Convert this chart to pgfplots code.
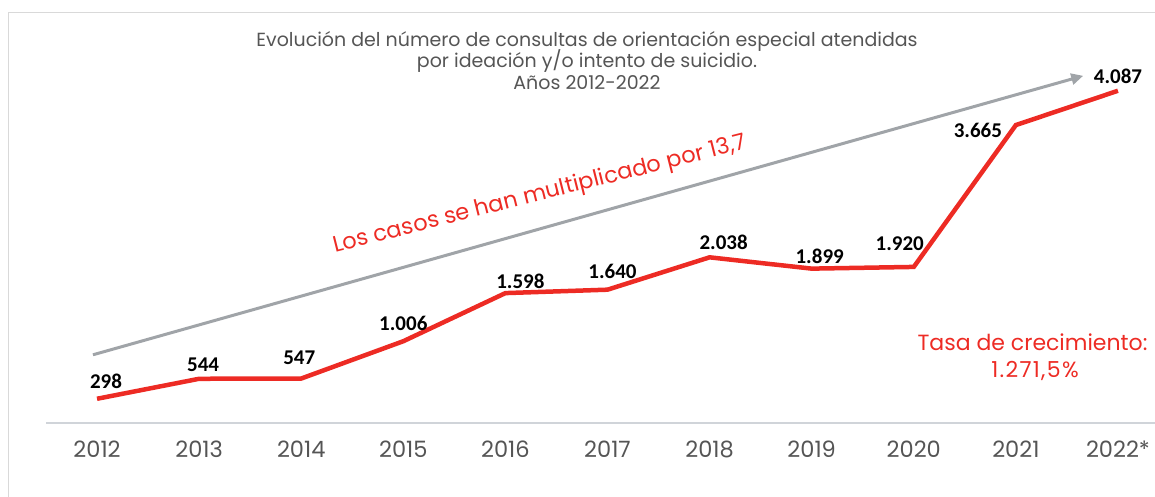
\documentclass[border=0pt]{standalone}
\usepackage{fontspec}
\setmainfont{Poppins}
\newfontfamily\numfont{Carlito}
\newfontfamily\spacedfont{Poppins}[LetterSpace=6]
\usepackage{pgfplots}
\usepackage{pgfplotstable}
\pgfplotsset{compat=1.18}
\usetikzlibrary{arrows.meta}
\definecolor{cred}{RGB}{237,43,36}
\definecolor{cgray}{RGB}{160,164,168}
\definecolor{ctext}{RGB}{85,85,85}
\definecolor{cframe}{RGB}{217,217,217}
\definecolor{caxis}{RGB}{208,212,217}
\tikzset{
  ttl/.style={anchor=base, inner sep=0pt, text=ctext, font=\fontsize{19}{22}\selectfont},
  numlab/.style={anchor=center, inner sep=2pt, text=black, font=\numfont\bfseries\fontsize{21}{24}\selectfont},
}

\pgfplotstableread{
x v
0 298
1 544
2 547
3 1006
4 1598
5 1640
6 2038
7 1899
8 1920
9 3665
10 4087
}\datatable

\begin{document}
\begin{tikzpicture}[x=1pt,y=1pt]
\path[use as bounding box] (0,0) rectangle (1155,497);
\draw[cframe, line width=1.3pt] (8.3,-5) -- (8.3,484.7) -- (1170,484.7);
\node[ttl] at (587,450) {Evolución del número de consultas de orientación especial atendidas};
\node[ttl] at (587,429) {por ideación y/o intento de suicidio.};
\node[ttl] at (587,407) {Años 2012-2022};
\begin{axis}[
  at={(46pt,74pt)}, anchor=south west, scale only axis,
  width=1123pt, height=365.8pt,
  xmin=-0.5, xmax=10.5, ymin=0, ymax=4500,
  axis x line*=bottom, axis y line=none,
  x axis line style={caxis, line width=1.5pt},
  xtick={0,...,10},
  xticklabels={2012,2013,2014,2015,2016,2017,2018,2019,2020,2021,2022*},
  ytick=\empty,
  major tick length=0pt,
  xticklabel style={anchor=base, yshift=-35pt, text=ctext, font=\fontsize{22.5}{26}\selectfont},
  clip=false,
]
\addplot[cgray, line width=3pt, -{Triangle[length=12pt,width=11pt]}] coordinates {(-0.04,839) (9.66,4271)};
\addplot[cred, line width=4.5pt] table[x=x,y=v]{\datatable};
\node[numlab, xshift=9pt, yshift=17pt] at (axis cs:0,298) {298};
\node[numlab, xshift=4pt, yshift=14pt] at (axis cs:1,544) {544};
\node[numlab, xshift=-2pt, yshift=21pt] at (axis cs:2,547) {547};
\node[numlab, xshift=0pt, yshift=18pt] at (axis cs:3,1006) {1.006};
\node[numlab, xshift=15pt, yshift=12pt] at (axis cs:4,1598) {1.598};
\node[numlab, xshift=5pt, yshift=18pt] at (axis cs:5,1640) {1.640};
\node[numlab, xshift=14pt, yshift=15pt] at (axis cs:6,2038) {2.038};
\node[numlab, xshift=8pt, yshift=12pt] at (axis cs:7,1899) {1.899};
\node[numlab, xshift=-14pt, yshift=23pt] at (axis cs:8,1920) {1.920};
\node[numlab, xshift=-38pt, yshift=-5pt] at (axis cs:9,3665) {3.665};
\node[numlab, xshift=0pt, yshift=14pt] at (axis cs:10,4087) {4.087};
\node[anchor=base west, inner sep=0pt, rotate=14.2, text=cred, font=\fontsize{22.5}{26}\selectfont] at (axis cs:2.33,2094) {Los casos se han multiplicado por 13,7};
\end{axis}
\node[anchor=center, inner sep=0pt, text=cred, font=\fontsize{22}{26}\selectfont] at (1032.5,155) {Tasa de crecimiento:};
\node[anchor=center, inner sep=0pt, text=cred, font=\spacedfont\fontsize{22}{26}\selectfont] at (1035,126) {1.271,5\%};
\end{tikzpicture}
\end{document}
